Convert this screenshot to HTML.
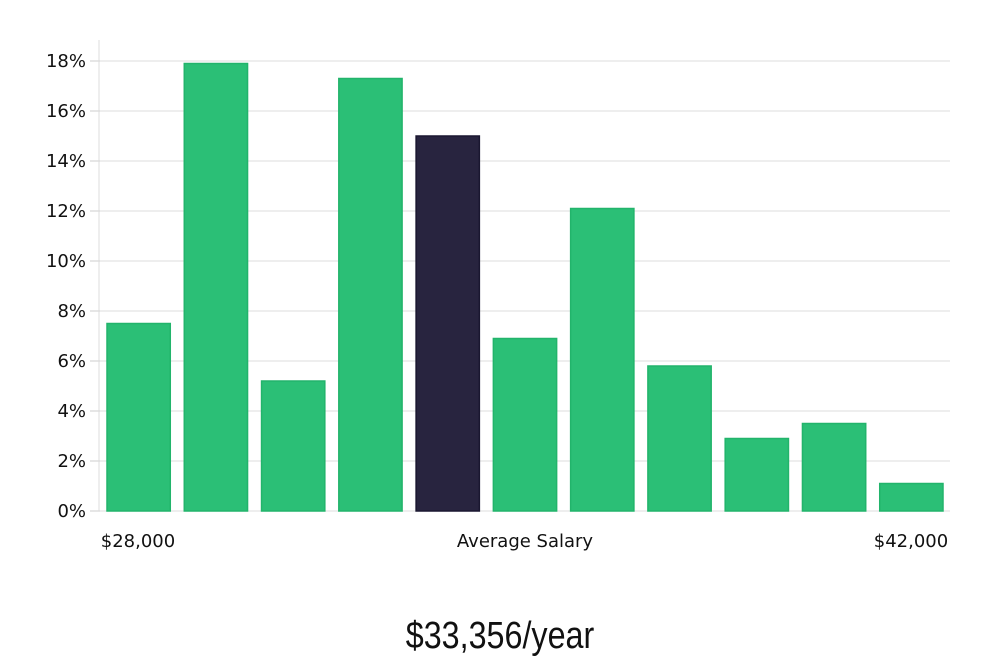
<!DOCTYPE html>
<html><head><meta charset="utf-8"><style>
body{margin:0;background:#fff;width:1000px;height:660px;overflow:hidden}
svg{display:block}
text{font-family:"DejaVu Sans","Liberation Sans",sans-serif;fill:#111}
</style></head><body>
<svg id="chart" width="1000" height="660" viewBox="0 0 1000 660">
<g id="grid"></g><g id="bars"></g><g id="axes"></g>
<text x="138" y="547" font-size="18" text-anchor="middle">$28,000</text>
<text x="525" y="547" font-size="18" text-anchor="middle">Average Salary</text>
<text x="911" y="547" font-size="18" text-anchor="middle">$42,000</text>
<text x="500" y="648" font-size="38" text-anchor="middle" transform="translate(500 0) scale(0.85 1) translate(-500 0)" style="font-family:'Liberation Sans',sans-serif">$33,356/year</text>
</svg>
<script>
const values=[7.5,17.9,5.2,17.3,15.0,6.9,12.1,5.8,2.9,3.5,1.1];
const highlightIndex=4;
const yTicks=[0,2,4,6,8,10,12,14,16,18];
const NS="http://www.w3.org/2000/svg";
const x0=100,x1=950,y0=511,yTop=61,yMax=18;
const y=v=>y0-(v/yMax)*(y0-yTop);
const step=(x1-x0)/values.length,bw=step-14;
const grid=document.getElementById('grid'),bars=document.getElementById('bars'),axes=document.getElementById('axes');
function mk(t,a,p){const e=document.createElementNS(NS,t);for(const k in a)e.setAttribute(k,a[k]);p.appendChild(e);return e;}
yTicks.forEach(t=>{
  const gl=mk('line',{x1:x0,x2:x1,y1:y(t),y2:y(t),stroke:'#dcdcdc','stroke-width':1},grid);
  
  
  const tk=mk('line',{x1:x0-10,x2:x0,y1:y(t),y2:y(t),stroke:'#ccc','stroke-width':1},axes);
  
  
  const tx=mk('text',{x:x0-14,y:y(t)+6,'font-size':18,'text-anchor':'end'},axes);
  tx.textContent=t+'%';
  
  
});
const ax=mk('line',{x1:x0-1,x2:x0-1,y1:40,y2:y0,stroke:'#ddd','stroke-width':1},axes);


values.forEach((v,i)=>{
  const hi=i===highlightIndex;
  const r=mk('rect',{x:x0+i*step+7,y:y(v),width:bw,height:y0-y(v),fill:hi?'#28243f':'#2bbf76',stroke:hi?'#1a1730':'#22b46b','stroke-width':1.5},bars);
  
  
});
</script>
</body></html>
